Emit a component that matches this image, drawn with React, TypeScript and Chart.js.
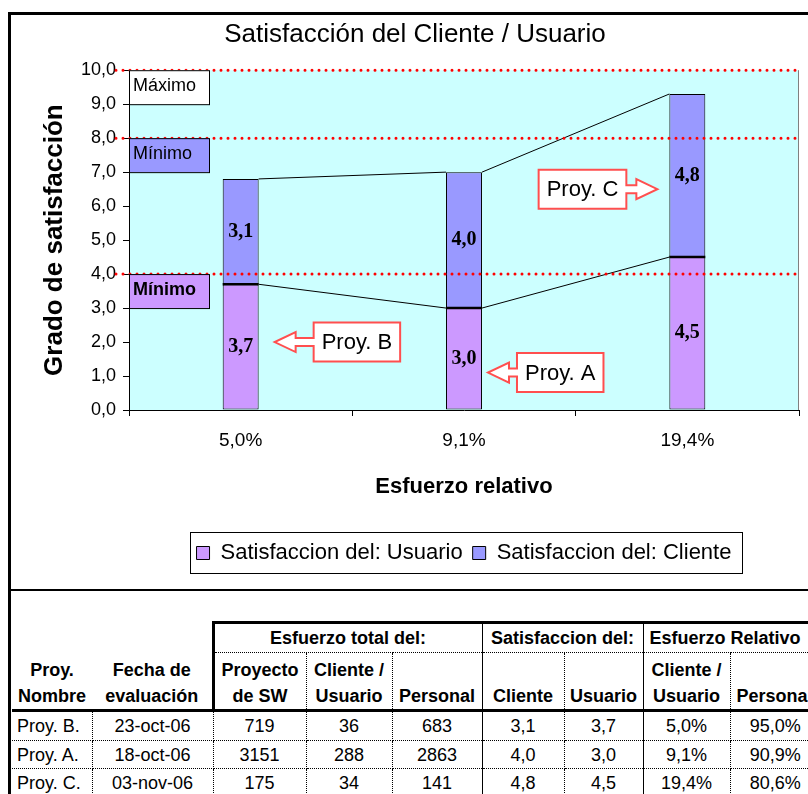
import React, { useEffect, useRef } from 'react';
import { Chart, registerables } from 'chart.js';

Chart.register(...registerables);

// ---------- data ----------
const categories = ['5,0%', '9,1%', '19,4%'];
const usuarioValues = [3.7, 3.0, 4.5];
const clienteValues = [3.1, 4.0, 4.8];
const seriesLabels = ['Satisfaccion del: Usuario', 'Satisfaccion del: Cliente'];
const thresholdLines = [10, 8, 4];
const thresholdBoxLabels = ['Máximo', 'Mínimo', 'Mínimo'];
const thresholdBoxTop = [10, 8, 4];
const thresholdBoxBottom = [9, 7, 3];
const calloutTexts = ['Proy. B', 'Proy. A', 'Proy. C'];
const calloutIndex = [0, 1, 2];
const calloutValue = [2.0, 1.1, 6.5];

const tableProjects = ['Proy. B.', 'Proy. A.', 'Proy. C.'];
const tableDates = ['23-oct-06', '18-oct-06', '03-nov-06'];
const effortProject = [719, 3151, 175];
const effortClient = [36, 288, 34];
const effortStaff = [683, 2863, 141];
const relStaff = ['95,0%', '90,9%', '80,6%'];

// ---------- styles ----------
const FONT = "'Liberation Sans', Arial, sans-serif";
const SERIF = "'Liberation Serif', 'Times New Roman', serif";
const PURPLE = '#CC99FF';
const BLUE = '#9999FF';
const boxFills = ['#FFFFFF', BLUE, PURPLE];
const boxBold = [false, false, true];
const calloutSide = ['right', 'right', 'left'];
const calloutGap = [16, 6, 12];
const calloutArrow = [39, 29, 31];

const fmt1 = (v: number) => v.toFixed(1).replace('.', ',');

const bgPlugin = {
  id: 'plotBg',
  beforeDraw(chart: any) {
    const { ctx, chartArea: a } = chart;
    ctx.save();
    ctx.fillStyle = '#CCFFFF';
    ctx.fillRect(a.left, a.top, a.right - a.left, a.bottom - a.top);
    ctx.strokeStyle = '#808080';
    ctx.lineWidth = 1;
    ctx.beginPath();
    ctx.moveTo(a.right - 0.5, a.top);
    ctx.lineTo(a.right - 0.5, a.bottom);
    ctx.stroke();
    ctx.restore();
  },
};

const overlayPlugin = {
  id: 'overlay',
  afterDatasetsDraw(chart: any) {
    const { ctx, chartArea: a } = chart;
    const ys = chart.scales.y;
    ctx.save();

    // boundary between stacked segments
    const m0 = chart.getDatasetMeta(0);
    ctx.strokeStyle = '#000';
    ctx.lineWidth = 2.5;
    m0.data.forEach((el: any) => {
      const p = el.getProps(['x', 'y', 'width'], true);
      ctx.beginPath();
      ctx.moveTo(p.x - p.width / 2, p.y);
      ctx.lineTo(p.x + p.width / 2, p.y);
      ctx.stroke();
    });

    // series lines
    ctx.lineWidth = 1;
    chart.data.datasets.forEach((_: any, di: number) => {
      const meta = chart.getDatasetMeta(di);
      for (let j = 0; j < meta.data.length - 1; j++) {
        const p = meta.data[j].getProps(['x', 'y', 'width'], true);
        const q = meta.data[j + 1].getProps(['x', 'y', 'width'], true);
        ctx.beginPath();
        ctx.moveTo(p.x + p.width / 2, p.y);
        ctx.lineTo(q.x - q.width / 2, q.y);
        ctx.stroke();
      }
    });

    // value labels
    ctx.fillStyle = '#000';
    ctx.font = `bold 20px ${SERIF}`;
    ctx.textAlign = 'center';
    ctx.textBaseline = 'middle';
    chart.data.datasets.forEach((ds: any, di: number) => {
      const meta = chart.getDatasetMeta(di);
      meta.data.forEach((el: any, j: number) => {
        const p = el.getProps(['x', 'y', 'base'], true);
        ctx.fillText(fmt1(ds.data[j]), p.x, (p.y + p.base) / 2);
      });
    });

    // red dotted threshold lines
    ctx.strokeStyle = '#FF0000';
    ctx.lineWidth = 3;
    ctx.lineCap = 'round';
    ctx.setLineDash([0, 7]);
    thresholdLines.forEach((v) => {
      const y = ys.getPixelForValue(v);
      ctx.beginPath();
      ctx.moveTo(a.left - 13, y);
      ctx.lineTo(a.right - 1, y);
      ctx.stroke();
    });
    ctx.setLineDash([]);
    ctx.lineCap = 'butt';

    // threshold label boxes
    thresholdBoxLabels.forEach((label, i) => {
      const y1 = ys.getPixelForValue(thresholdBoxTop[i]);
      const y2 = ys.getPixelForValue(thresholdBoxBottom[i]);
      ctx.fillStyle = boxFills[i];
      ctx.fillRect(a.left, y1, 80, y2 - y1);
      ctx.strokeStyle = '#000';
      ctx.lineWidth = 1;
      ctx.strokeRect(a.left + 0.5, y1 + 0.5, 80, y2 - y1);
      ctx.fillStyle = '#000';
      ctx.font = `${boxBold[i] ? 'bold ' : ''}18px ${FONT}`;
      ctx.textAlign = 'left';
      ctx.textBaseline = 'middle';
      ctx.fillText(label, a.left + 4, (y1 + y2) / 2 - 1);
    });

    // callouts
    ctx.font = `22px ${FONT}`;
    calloutTexts.forEach((text, i) => {
      const el = m0.data[calloutIndex[i]].getProps(['x', 'width'], true);
      const ty = ys.getPixelForValue(calloutValue[i]);
      const tw = ctx.measureText(text).width;
      const bw = tw + 16;
      const bh = 39;
      const dir = calloutSide[i] === 'right' ? 1 : -1;
      const tx = dir === 1 ? el.x + el.width / 2 + calloutGap[i] : el.x - el.width / 2 - calloutGap[i];
      const hx = tx + dir * 21;
      const bx0 = tx + dir * calloutArrow[i];
      const bx1 = bx0 + dir * bw;
      const by = ty - bh / 2;
      ctx.beginPath();
      ctx.moveTo(bx0, by);
      ctx.lineTo(bx1, by);
      ctx.lineTo(bx1, by + bh);
      ctx.lineTo(bx0, by + bh);
      ctx.lineTo(bx0, ty + 4);
      ctx.lineTo(hx, ty + 4);
      ctx.lineTo(hx, ty + 10);
      ctx.lineTo(tx, ty);
      ctx.lineTo(hx, ty - 10);
      ctx.lineTo(hx, ty - 4);
      ctx.lineTo(bx0, ty - 4);
      ctx.closePath();
      ctx.fillStyle = '#FFFFFF';
      ctx.fill();
      ctx.strokeStyle = '#FF4F4F';
      ctx.lineWidth = 2;
      ctx.lineJoin = 'miter';
      ctx.stroke();
      ctx.fillStyle = '#000';
      ctx.textAlign = 'center';
      ctx.textBaseline = 'middle';
      ctx.fillText(text, (bx0 + bx1) / 2, ty + 1);
    });
    ctx.restore();
  },
  afterDraw(chart: any) {
    const lg = chart.legend;
    if (!lg || !lg.legendHitBoxes || !lg.legendHitBoxes.length) return;
    const hb = lg.legendHitBoxes;
    const minL = Math.min(...hb.map((h: any) => h.left));
    const maxR = Math.max(...hb.map((h: any) => h.left + h.width));
    const ctx = chart.ctx;
    ctx.save();
    ctx.strokeStyle = '#000';
    ctx.lineWidth = 1;
    ctx.strokeRect(Math.round(minL - 7) + 0.5, Math.round(lg.top) + 0.5, Math.round(maxR - minL + 17), Math.round(lg.height) - 1);
    ctx.restore();
  },
};

function ChartCanvas() {
  const ref = useRef<HTMLCanvasElement>(null);
  useEffect(() => {
    if (!ref.current) return;
    const chart = new Chart(ref.current, {
      type: 'bar',
      data: {
        labels: categories,
        datasets: [
          {
            label: seriesLabels[0],
            data: usuarioValues,
            backgroundColor: PURPLE,
            borderColor: '#000',
            borderWidth: 1,
            borderSkipped: false,
            barPercentage: 0.161,
            categoryPercentage: 1,
          },
          {
            label: seriesLabels[1],
            data: clienteValues,
            backgroundColor: BLUE,
            borderColor: '#000',
            borderWidth: 1,
            borderSkipped: false,
            barPercentage: 0.161,
            categoryPercentage: 1,
          },
        ],
      },
      options: {
        responsive: false,
        animation: false,
        layout: { padding: { top: 14, left: 10, right: 0, bottom: 16 } },
        plugins: {
          title: {
            display: true,
            text: 'Satisfacción del Cliente / Usuario',
            color: '#000',
            font: { family: FONT, size: 26, weight: 'normal', lineHeight: 1.2 },
            padding: { top: 5, bottom: 20 },
          },
          legend: {
            position: 'bottom',
            fullSize: false,
            labels: {
              color: '#000',
              font: { family: FONT, size: 22 },
              boxWidth: 13,
              boxHeight: 13,
              padding: 10,
            },
          },
          tooltip: { enabled: false },
        },
        scales: {
          x: {
            stacked: true,
            grid: { offset: true, drawOnChartArea: false, tickLength: 6, color: '#000' },
            border: { color: '#000' },
            ticks: { color: '#000', font: { family: FONT, size: 19 }, padding: 13 },
            title: {
              display: true,
              text: 'Esfuerzo relativo',
              color: '#000',
              font: { family: FONT, size: 22, weight: 'bold' },
              padding: { top: 0, bottom: 32 },
            },
            afterFit: (s: any) => { s.height = 122; },
          },
          y: {
            stacked: true,
            min: 0,
            max: 10,
            ticks: {
              stepSize: 1,
              color: '#000',
              font: { family: FONT, size: 18 },
              padding: 7,
              callback: (v: any) => fmt1(Number(v)),
            },
            grid: { drawOnChartArea: false, tickLength: 6, color: '#000' },
            border: { color: '#000' },
            title: {
              display: true,
              text: 'Grado de satisfacción',
              color: '#000',
              font: { family: FONT, size: 26, weight: 'bold' },
              padding: { top: 29, bottom: 0 },
            },
            afterFit: (s: any) => { s.width = 119; },
          },
          yR: {
            type: 'linear',
            position: 'right',
            display: true,
            ticks: { display: false },
            grid: { display: false },
            border: { display: false },
            afterFit: (s: any) => { s.width = 21; },
          },
        },
      } as any,
      plugins: [bgPlugin, overlayPlugin],
    });
    return () => chart.destroy();
  }, []);
  return (
    <canvas
      ref={ref}
      width={820}
      height={590}
      style={{ position: 'absolute', left: 0, top: 0, width: 820, height: 590, display: 'block' }}
    />
  );
}

const THICK = '3px solid #000';
const SOLID = '1px solid #000';
const DOT = '1px dotted #000';

function DataTable() {
  const colWidths = [80, 121, 93, 86, 90, 82, 79, 87, 90];
  const hdr: React.CSSProperties = {
    fontWeight: 'bold',
    textAlign: 'center',
    padding: 0,
    lineHeight: '26px',
    whiteSpace: 'nowrap',
    overflow: 'hidden',
  };
  const cell: React.CSSProperties = {
    textAlign: 'center',
    padding: 0,
    lineHeight: '20px',
    borderBottom: DOT,
    whiteSpace: 'nowrap',
    overflow: 'hidden',
  };
  const rightBorders = [DOT, DOT, DOT, DOT, SOLID, DOT, SOLID, DOT, 'none'];
  return (
    <table
      style={{
        position: 'absolute',
        left: 12,
        top: 621,
        borderCollapse: 'collapse',
        tableLayout: 'fixed',
        width: colWidths.reduce((s, w) => s + w, 0),
        fontFamily: FONT,
        fontSize: 18,
        color: '#000',
      }}
    >
      <colgroup>
        {colWidths.map((w, i) => (
          <col key={i} style={{ width: w }} />
        ))}
      </colgroup>
      <tbody>
        <tr style={{ height: 30 }}>
          <td colSpan={2} style={{ padding: 0, border: 'none' }} />
          <td colSpan={3} style={{ ...hdr, borderTop: THICK, borderLeft: THICK, borderBottom: DOT, borderRight: SOLID }}>
            Esfuerzo total del:
          </td>
          <td colSpan={2} style={{ ...hdr, borderTop: THICK, borderBottom: DOT, borderRight: SOLID }}>
            Satisfaccion del:
          </td>
          <td colSpan={2} style={{ ...hdr, borderTop: THICK, borderBottom: DOT, textAlign: 'left', paddingLeft: 6 }}>
            Esfuerzo Relativo
          </td>
        </tr>
        <tr style={{ height: 58 }}>
          <td style={{ ...hdr, verticalAlign: 'bottom', borderBottom: THICK }}>Proy.<br />Nombre</td>
          <td style={{ ...hdr, verticalAlign: 'bottom', borderBottom: THICK, borderRight: THICK }}>Fecha de<br />evaluación</td>
          <td style={{ ...hdr, verticalAlign: 'bottom', borderBottom: THICK, borderRight: DOT }}>Proyecto<br />de SW</td>
          <td style={{ ...hdr, verticalAlign: 'bottom', borderBottom: THICK, borderRight: DOT }}>Cliente /<br />Usuario</td>
          <td style={{ ...hdr, verticalAlign: 'bottom', borderBottom: THICK, borderRight: SOLID }}>Personal</td>
          <td style={{ ...hdr, verticalAlign: 'bottom', borderBottom: THICK, borderRight: DOT }}>Cliente</td>
          <td style={{ ...hdr, verticalAlign: 'bottom', borderBottom: THICK, borderRight: SOLID }}>Usuario</td>
          <td style={{ ...hdr, verticalAlign: 'bottom', borderBottom: THICK, borderRight: DOT }}>Cliente /<br />Usuario</td>
          <td style={{ ...hdr, verticalAlign: 'bottom', borderBottom: THICK, textAlign: 'left', paddingLeft: 6 }}>Personal</td>
        </tr>
        {tableProjects.map((p, r) => {
          const vals = [
            p,
            tableDates[r],
            String(effortProject[r]),
            String(effortClient[r]),
            String(effortStaff[r]),
            fmt1(clienteValues[r]),
            fmt1(usuarioValues[r]),
            categories[r],
            relStaff[r],
          ];
          return (
            <tr key={r} style={{ height: r === 0 ? 30 : 28 }}>
              {vals.map((v, c) => (
                <td
                  key={c}
                  style={{
                    ...cell,
                    borderRight: rightBorders[c],
                    textAlign: c === 0 ? 'left' : 'center',
                    paddingLeft: c === 0 ? 5 : 0,
                  }}
                >
                  {v}
                </td>
              ))}
            </tr>
          );
        })}
      </tbody>
    </table>
  );
}

export default function App() {
  return (
    <div
      style={{
        position: 'absolute',
        left: 0,
        top: 0,
        width: 808,
        height: 794,
        overflow: 'hidden',
        background: '#FFFFFF',
      }}
    >
      <ChartCanvas />
      <div style={{ position: 'absolute', left: 8, top: 12, width: 800, height: 3, background: '#000' }} />
      <div style={{ position: 'absolute', left: 8, top: 12, width: 3, height: 782, background: '#000' }} />
      <div style={{ position: 'absolute', left: 8, top: 589, width: 800, height: 2, background: '#000' }} />
      <DataTable />
    </div>
  );
}
